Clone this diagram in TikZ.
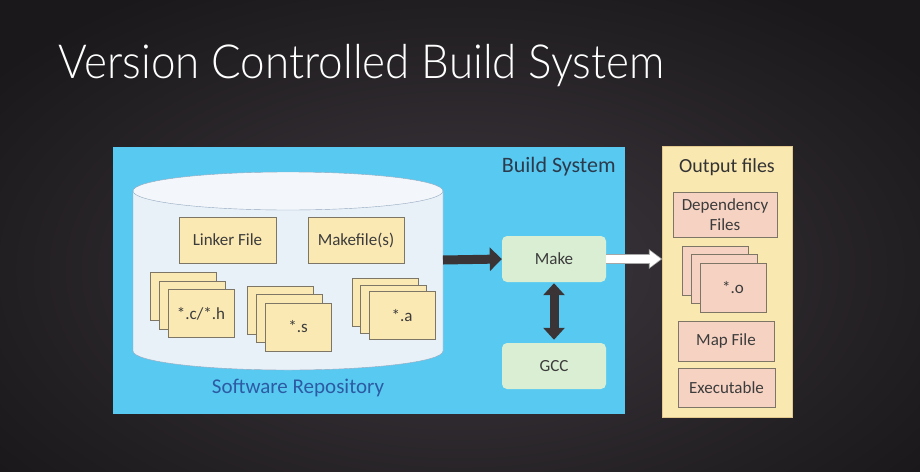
\documentclass[tikz,border=0pt]{standalone}
\usepackage{fontspec}
\setmainfont{Carlito}
\newfontfamily\titlefont{Lato Light}
\usetikzlibrary{arrows.meta,calc}

\definecolor{bgdark}{HTML}{1A181B}
\definecolor{bglight}{HTML}{3E383E}
\definecolor{sysblue}{HTML}{58CAF1}
\definecolor{cylfill}{HTML}{E8F0F8}
\definecolor{cyltop}{HTML}{F3F7FB}
\definecolor{cylline}{HTML}{93A8BE}
\definecolor{fileyel}{HTML}{FBE9B3}
\definecolor{filebrd}{HTML}{7D7565}
\definecolor{outyel}{HTML}{FAE8B1}
\definecolor{outbrd}{HTML}{E3C98E}
\definecolor{outpink}{HTML}{F6D2C2}
\definecolor{makegrn}{HTML}{D9EED2}
\definecolor{arrdark}{HTML}{3A3437}
\definecolor{txtdark}{HTML}{3C3C3C}
\definecolor{sysblack}{HTML}{2B3A4C}
\definecolor{repoblue}{HTML}{2C5BA4}

% name, x, y, dx, dy, style, label
\newcommand\filestack[7]{%
  \foreach \k in {2,1} \node[#6] (#1-\k) at ($(#2,#3)+\k*(#4,#5)$) {};
  \node[#6] (#1) at (#2,#3) {#7};}

\begin{document}
\begin{tikzpicture}[x=1pt,y=-1pt,
  every node/.style={font=\fontsize{17}{19}\selectfont,text=txtdark},
  filebox/.style={draw=filebrd,fill=fileyel,inner sep=0pt},
  outfile/.style={draw=filebrd,fill=outpink,inner sep=0pt,align=center},
  stackyel/.style={filebox,minimum width=66,minimum height=48},
  stackpink/.style={outfile,minimum width=66,minimum height=49},
  toolbox/.style={fill=makegrn,rounded corners=5pt,minimum width=104,minimum height=46,inner sep=0pt}]

\useasboundingbox (0,0) rectangle (920,471);
\shade[inner color=bglight,outer color=bgdark] (-120,-60) rectangle (1040,600);

\node[anchor=west,text=white,font=\titlefont\fontsize{47}{50}\selectfont] (title) at (55,66) {\scalebox{0.935}[1]{Version Controlled Build System}};

\node[fill=sysblue,minimum width=512,minimum height=267,inner sep=0pt] (sys) at (369,280.5) {};
\node[anchor=north east,text=sysblack,font=\fontsize{22}{24}\selectfont] (syslabel) at ($(sys.north east)+(-6,7)$) {Build System};

% repository
\path[fill=cylfill,draw=cylline] (133,191) -- (133,351) arc[start angle=180,end angle=360,x radius=155pt,y radius=19pt] -- (443,191);
\draw[cylline,fill=cyltop] (288,191) ellipse[x radius=155pt,y radius=19pt];
\node[text=repoblue,font=\fontsize{21}{23}\selectfont] (repolabel) at (298,388) {Software Repository};
\coordinate (repo) at (443,260);

\node[filebox,minimum width=97,minimum height=46] (linker) at (227.5,240) {Linker File};
\node[filebox,minimum width=96,minimum height=46] (makefile) at (356,240) {Makefile(s)};
\filestack{src}{201}{313.5}{-9}{-8.5}{stackyel}{*.c/*.h}
\filestack{asm}{298}{327}{-9}{-8.5}{stackyel}{*.s}
\filestack{lib}{402}{315.5}{-8.5}{-6.5}{stackyel}{*.a}

\node[toolbox] (make) at (554,259) {Make};
\node[toolbox] (gcc) at (554,366) {GCC};

% output files
\node[fill=outyel,draw=outbrd,minimum width=130,minimum height=271,inner sep=0pt] (out) at (727,281.5) {};
\node[text=black!80,font=\fontsize{20}{22}\selectfont] (outlabel) at (727,167) {Output files};
\node[outfile,minimum width=104,minimum height=45,font=\fontsize{17}{20}\selectfont] (dep) at (725,214.5) {Dependency\\Files};
\filestack{obj}{733}{287.5}{-9}{-8.5}{stackpink}{*.o}
\node[outfile,minimum width=96,minimum height=40] (map) at (726,341) {Map File};
\node[outfile,minimum width=97,minimum height=39] (exe) at (726.5,387.5) {Executable};

% arrows
\draw[arrdark,line width=9pt,-{Triangle[length=12pt,width=23pt]}] (repo) -- (make.west);
\draw[arrdark,line width=9pt,{Triangle[length=12pt,width=21pt]}-{Triangle[length=12pt,width=21pt]}] ($(make.south)+(0,1)$) -- ($(gcc.north)+(0,-3)$);
\draw[gray!70,line width=10.5pt,-{Triangle[length=13.5pt,width=19pt]}] (make.east) -- ($(make.east -| out.west)+(0.5,0)$);
\draw[white,line width=8.5pt,-{Triangle[length=11pt,width=16pt]}] (make.east) -- ($(make.east -| out.west)+(-1,0)$);
\end{tikzpicture}
\end{document}
